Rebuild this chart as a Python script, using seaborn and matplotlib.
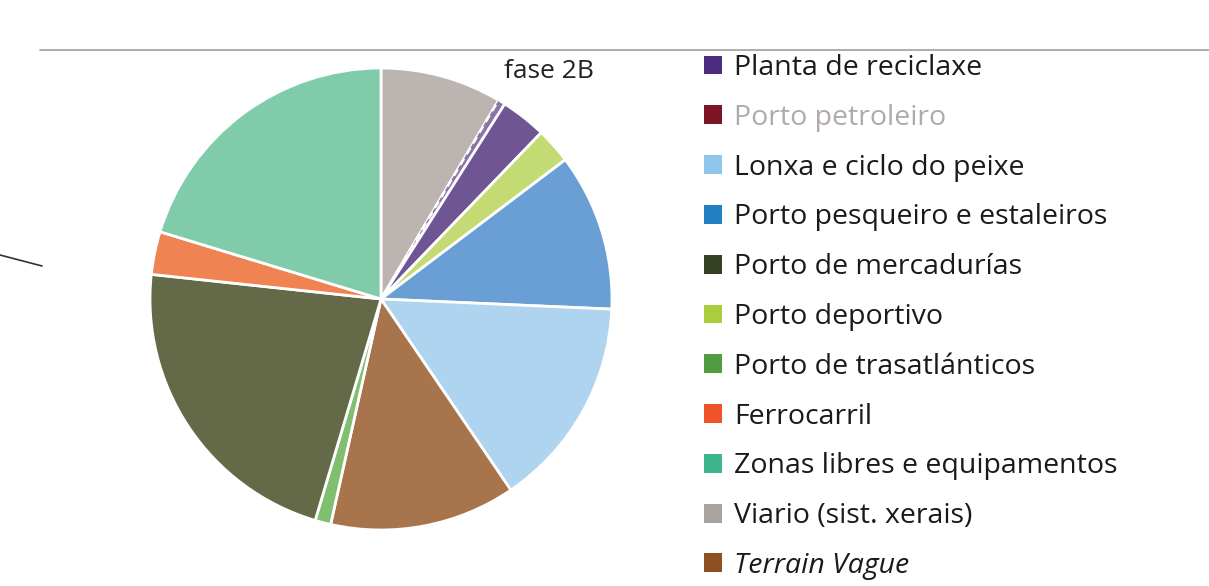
import matplotlib
matplotlib.use("Agg")
import matplotlib.pyplot as plt
import seaborn as sns
from matplotlib.patches import Patch
from matplotlib.lines import Line2D

# --- data (percent shares, fase 2B), in pie order clockwise from 12 o'clock
pie_labels = ["Viario (sist. xerais)", "Porto petroleiro", "Planta de reciclaxe",
              "Porto deportivo", "Porto pesqueiro e estaleiros", "Lonxa e ciclo do peixe",
              "Terrain Vague", "Porto de trasatlánticos", "Porto de mercadurías",
              "Ferrocarril", "Zonas libres e equipamentos"]
pie_values = [8.5, 0.5, 3.2, 2.5, 11.0, 14.8, 13.0, 1.1, 22.1, 3.0, 20.3]
pie_colors = ["#bbb4b0", "#8a76a6", "#6f5594", "#c4da72", "#6a9fd5", "#afd4ef",
              "#a8744c", "#80be70", "#646a47", "#f08352", "#80cba9"]

legend_labels = ["Planta de reciclaxe", "Porto petroleiro", "Lonxa e ciclo do peixe",
                 "Porto pesqueiro e estaleiros", "Porto de mercadurías", "Porto deportivo",
                 "Porto de trasatlánticos", "Ferrocarril", "Zonas libres e equipamentos",
                 "Viario (sist. xerais)", "Terrain Vague"]
legend_colors = ["#4d2c80", "#7b1526", "#8fc7eb", "#2180c2", "#354122", "#a9cd3d",
                 "#519b40", "#ef5329", "#3db68b", "#aaa29e", "#8c5023"]

title = "fase 2B"

sns.set_theme(style="white")
plt.rcParams["font.family"] = ["Open Sans", "DejaVu Sans"]

W, H = 1209, 586
fig = plt.figure(figsize=(W / 100, H / 100), dpi=100)
fig.patch.set_facecolor("white")

cx, cy, r = 381, 299, 231
ax = fig.add_axes([(cx - r) / W, (H - cy - r) / H, 2 * r / W, 2 * r / H])
wedges, _ = ax.pie(pie_values, colors=pie_colors, startangle=90, counterclock=False,
                   radius=1.0, wedgeprops=dict(edgecolor="white", linewidth=2))
wedges[1].set_linestyle((0, (3, 2)))
wedges[1].set_linewidth(1.8)
ax.set_xlim(-1, 1)
ax.set_ylim(-1, 1)
ax.set_aspect("equal")
ax.axis("off")

# title
fig.text(549 / W, 1 - 71 / H, title, ha="center", va="center", fontsize=19, color="#222222")

# decorative lines from the source page
fig.add_artist(Line2D([40 / W, 1.0], [1 - 50 / H, 1 - 50 / H], transform=fig.transFigure,
                      color="#a0a0a0", linewidth=1.2))
fig.add_artist(Line2D([0, 42 / W], [1 - 255 / H, 1 - 266 / H], transform=fig.transFigure,
                      color="#333333", linewidth=1.2))

fs = 20.5
handles = [Patch(facecolor=c, edgecolor="none") for c in legend_colors]
leg = fig.legend(handles, legend_labels, loc="center left",
                 bbox_to_anchor=(704 / W, 1 - 317 / H), frameon=False,
                 fontsize=fs, handlelength=0.64, handleheight=0.64, handletextpad=0.42,
                 labelspacing=0.765, borderaxespad=0, borderpad=0)
for t in leg.get_texts():
    t.set_color("#1a1a1a")
leg.get_texts()[1].set_color("#b0aaa8")
leg.get_texts()[-1].set_style("italic")

fig.savefig("out.png", dpi=100, facecolor="white")
